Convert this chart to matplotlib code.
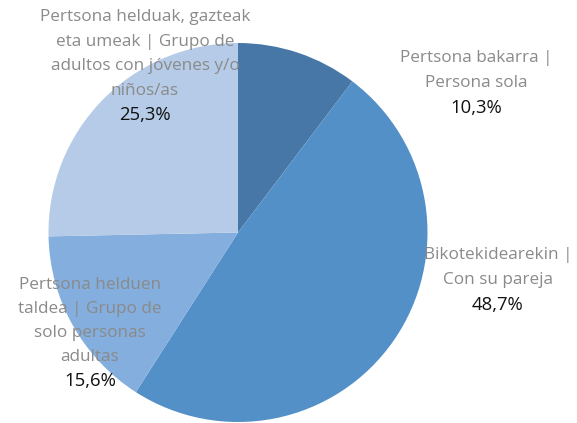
import matplotlib
matplotlib.use("Agg")
import matplotlib.pyplot as plt

categories = ["Pertsona bakarra |\nPersona sola",
              "Bikotekidearekin |\nCon su pareja",
              "Pertsona helduen\ntaldea | Grupo de\nsolo personas\nadultas",
              "Pertsona helduak, gazteak\neta umeak | Grupo de\nadultos con jóvenes y/o\nniños/as"]
values = [10.3, 48.7, 15.6, 25.3]
pct_labels = ["10,3%", "48,7%", "15,6%", "25,3%"]
colors = ["#4677A6", "#5390C8", "#84AEDD", "#B6CBE7"]

W, H = 577, 423
fig = plt.figure(figsize=(W / 100, H / 100), dpi=100)
ax = fig.add_axes([0, 0, 1, 1])

cx, cy, r = 238, H - 232.5, 189.5
ax.pie(values, colors=colors, startangle=90, counterclock=False,
       center=(cx, cy), radius=r, frame=True,
       wedgeprops=dict(linewidth=0))
ax.set_xlim(0, W)
ax.set_ylim(0, H)
ax.set_aspect("equal")
ax.axis("off")

font = "Open Sans"
gray = "#8a8a8a"
# (center x, top line y in pixels, line spacing)
label_pos = [(476, 58, 25), (498, 255, 25), (90, 285, 24), (145, 17, 24.5)]
for cat, pct, (lx, ly, ls) in zip(categories, pct_labels, label_pos):
    lines = cat.split("\n")
    for i, line in enumerate(lines):
        ax.text(lx, H - (ly + i * ls), line, ha="center", va="center",
                fontsize=12.3, color=gray, family=font)
    ax.text(lx, H - (ly + len(lines) * ls), pct, ha="center", va="center",
            fontsize=13.3, color="#111111", family=font)

fig.savefig("out.png", dpi=100)
